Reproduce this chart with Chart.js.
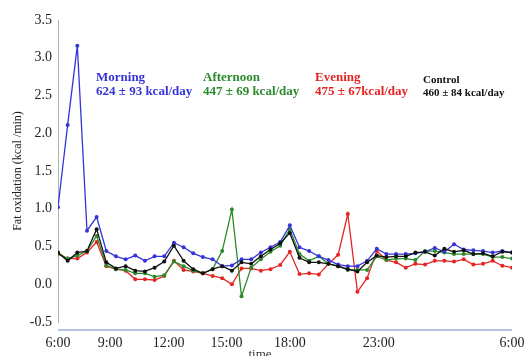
<!DOCTYPE html>
<html>
<head>
<meta charset="utf-8">
<script src="https://cdn.jsdelivr.net/npm/chart.js@4.4.1/dist/chart.umd.min.js"></script>
<style>
  body { margin: 0; background: #fff; }
  #grafico { display: block; }
</style>
</head>
<body>
<canvas id="grafico" width="526" height="356"></canvas>
<script>
// Etiquetas del eje x (hora) y su posicion en numero de medicion
const etiquetasHora = ['6:00', '9:00', '12:00', '15:00', '18:00', '23:00', '6:00'];
const posicionHora = [0, 5.4, 11.45, 17.45, 24, 33.2, 47];

// Oxidacion de grasa (kcal/min) por grupo, una medicion por punto
const manana = [1.02, 2.11, 3.16, 0.71, 0.89, 0.44, 0.37, 0.33, 0.38, 0.31, 0.37, 0.37,
    0.55, 0.49, 0.41, 0.36, 0.33, 0.24, 0.25, 0.33, 0.33, 0.42, 0.49, 0.56,
    0.78, 0.49, 0.44, 0.37, 0.32, 0.26, 0.24, 0.24, 0.31, 0.47, 0.40, 0.40,
    0.40, 0.41, 0.43, 0.48, 0.43, 0.53, 0.46, 0.45, 0.44, 0.42, 0.44, 0.42];
const tarde = [0.41, 0.34, 0.38, 0.44, 0.64, 0.25, 0.20, 0.19, 0.145, 0.145, 0.10, 0.12,
    0.30, 0.24, 0.18, 0.145, 0.20, 0.44, 0.99, -0.16, 0.22, 0.33, 0.43, 0.51,
    0.73, 0.40, 0.31, 0.37, 0.27, 0.24, 0.19, 0.19, 0.19, 0.37, 0.32, 0.34,
    0.34, 0.32, 0.44, 0.44, 0.42, 0.40, 0.40, 0.40, 0.40, 0.36, 0.36, 0.34];
const noche = [0.40, 0.34, 0.34, 0.42, 0.56, 0.24, 0.20, 0.18, 0.065, 0.065, 0.056, 0.11,
    0.31, 0.19, 0.17, 0.145, 0.11, 0.08, 0.0, 0.21, 0.21, 0.18, 0.20, 0.255,
    0.43, 0.135, 0.145, 0.13, 0.27, 0.39, 0.93, -0.10, 0.08, 0.44, 0.32, 0.29,
    0.22, 0.27, 0.26, 0.31, 0.31, 0.30, 0.33, 0.26, 0.27, 0.31, 0.245, 0.22];
const control = [0.42, 0.31, 0.42, 0.44, 0.73, 0.29, 0.21, 0.24, 0.18, 0.17, 0.22, 0.30,
    0.51, 0.31, 0.20, 0.145, 0.20, 0.24, 0.18, 0.29, 0.27, 0.37, 0.46, 0.54,
    0.68, 0.35, 0.29, 0.29, 0.27, 0.24, 0.20, 0.17, 0.29, 0.38, 0.36, 0.37,
    0.37, 0.42, 0.43, 0.38, 0.47, 0.43, 0.45, 0.40, 0.41, 0.37, 0.43, 0.42];

// Textos de cada grupo (nombre y gasto diario)
const grupos = ['Morning', 'Afternoon', 'Evening', 'Control'];
const gastoDiario = ['624 \u00b1 93 kcal/day', '447 \u00b1 69 kcal/day', '475 \u00b1 67kcal/day', '460 \u00b1 84 kcal/day'];

const colores = {
    azul: '#3434d8',
    verde: '#2b8a2b',
    rojo: '#e52424',
    negro: '#111111'
};

const fuente = '"Liberation Serif", "Times New Roman", serif';

function serie(valores) {
    return valores.map((v, i) => ({ x: i, y: v }));
}

function dataset(nombre, valores, color) {
    return {
        label: nombre,
        data: serie(valores),
        borderColor: color,
        backgroundColor: color,
        borderWidth: 1.3,
        pointRadius: 2,
        pointBorderWidth: 0,
        tension: 0
    };
}

// Dibuja la linea del eje x, el titulo "time" y los textos de cada grupo
const extras = {
    id: 'extras',
    afterDraw(chart) {
        const ctx = chart.ctx;
        const area = chart.chartArea;
        ctx.save();
        ctx.strokeStyle = '#b3c5dc';
        ctx.lineWidth = 2;
        ctx.beginPath();
        ctx.moveTo(area.left, area.bottom + 8);
        ctx.lineTo(area.right, area.bottom + 8);
        ctx.stroke();

        ctx.fillStyle = '#333';
        ctx.font = '13px ' + fuente;
        ctx.textAlign = 'center';
        ctx.fillText('time', 260, 358);

        ctx.textAlign = 'left';
        const posX = [96, 203, 315, 423];
        const tonos = [colores.azul, colores.verde, colores.rojo, colores.negro];
        grupos.forEach((g, i) => {
            const chico = i === 3;
            ctx.fillStyle = tonos[i];
            ctx.font = 'bold ' + (chico ? 11 : 13) + 'px ' + fuente;
            ctx.fillText(g, posX[i], chico ? 83 : 81);
            ctx.fillText(gastoDiario[i], posX[i], chico ? 96 : 95);
        });
        ctx.restore();
    }
};

new Chart(document.getElementById('grafico'), {
    type: 'line',
    data: {
        datasets: [
            dataset('Control', control, colores.negro),
            dataset('Morning', manana, colores.azul),
            dataset('Afternoon', tarde, colores.verde),
            dataset('Evening', noche, colores.rojo)
        ]
    },
    options: {
        responsive: false,
        animation: false,
        layout: { padding: { left: 0, top: 20, right: 14, bottom: 0 } },
        plugins: {
            legend: { display: false },
            tooltip: { enabled: false }
        },
        scales: {
            x: {
                type: 'linear',
                min: 0,
                max: 47,
                afterBuildTicks: (scale) => {
                    scale.ticks = posicionHora.map(v => ({ value: v }));
                },
                afterFit: (scale) => {
                    scale.height = 34;
                    scale.paddingLeft = 0;
                    scale.paddingRight = 0;
                },
                ticks: {
                    autoSkip: false,
                    maxRotation: 0,
                    padding: 13,
                    color: '#222',
                    font: { family: fuente, size: 14 },
                    callback: (valor, i) => etiquetasHora[i]
                },
                grid: { display: false, drawTicks: false },
                border: { display: false }
            },
            y: {
                min: -0.5,
                max: 3.5,
                afterFit: (scale) => {
                    scale.width = 58;
                    scale.paddingTop = 0;
                    scale.paddingBottom = 0;
                },
                ticks: {
                    stepSize: 0.5,
                    padding: 6,
                    color: '#222',
                    font: { family: fuente, size: 14 },
                    callback: (valor) => valor.toFixed(1)
                },
                grid: { display: false, drawTicks: false },
                border: { display: true, color: '#b0b0b0', width: 1 },
                title: {
                    display: true,
                    text: 'Fat oxidation (kcal /min)',
                    color: '#222',
                    font: { family: fuente, size: 12 },
                    padding: { top: 11, bottom: 0 }
                }
            }
        }
    },
    plugins: [extras]
});
</script>
</body>
</html>
